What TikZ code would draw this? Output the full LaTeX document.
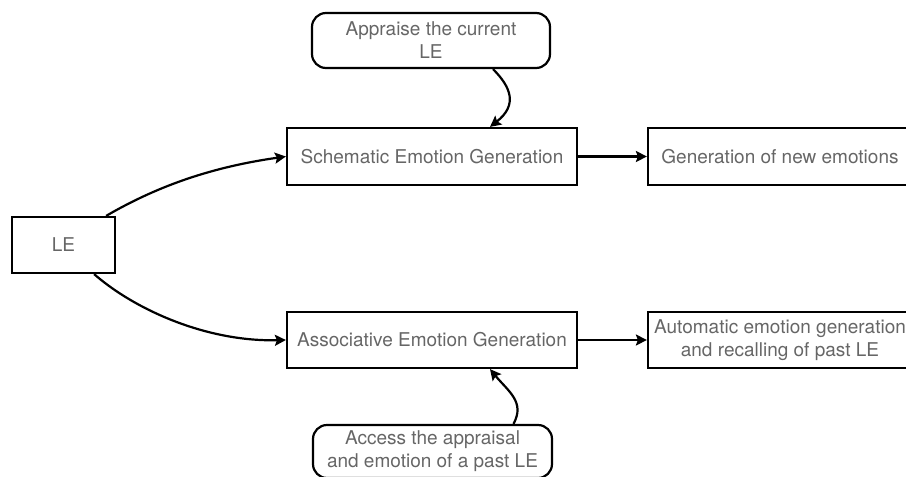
\documentclass[tikz,border=0pt]{standalone}
\usepackage{fontspec}
\setmainfont{TeX Gyre Heros}
\usetikzlibrary{arrows.meta}
\begin{document}
\begin{tikzpicture}[x=1pt,y=-1pt,
  box/.style={draw,line width=2.2pt,inner sep=0pt,align=center,text=black!60,
    font=\fontsize{19}{23}\selectfont},
  rbox/.style={box,rounded corners=14pt},
  conn/.style={line width=2.2pt,-{Stealth[length=11pt,width=11pt,inset=2pt]}}]
\useasboundingbox (0,0) rectangle (906,477);
\node[box,minimum width=103pt,minimum height=56pt] (le) at (63.5,245) {LE};
\node[box,minimum width=290pt,minimum height=57pt] (sched) at (432,156.5) {Schematic Emotion Generation};
\node[box,minimum width=264pt,minimum height=57pt] (gen) at (780,156.5) {Generation of new emotions};
\node[box,minimum width=290pt,minimum height=56pt] (assoc) at (432,340) {Associative Emotion Generation};
\node[box,minimum width=264pt,minimum height=56pt] (auto) at (780,340) {Automatic emotion generation\\and recalling of past LE};
\node[rbox,minimum width=238pt,minimum height=55pt] (appr) at (431,40.5) {Appraise the current\\LE};
\node[rbox,minimum width=239pt,minimum height=53pt] (access) at (432.5,451.5) {Access the appraisal\\and emotion of a past LE};
\draw[conn] ([xshift=-10pt]le.north east) .. controls +(55,-32) and +(-70,10) .. (sched.west);
\draw[conn] ([xshift=-22pt]le.south east) .. controls +(40,35) and +(-80,2) .. (assoc.west);
\draw[conn] (sched.east) -- (gen.west);
\draw[conn] (assoc.east) -- (auto.west);
\draw[conn] ([xshift=62pt]appr.south) .. controls +(18,18) and +(28,-22) .. ([xshift=58pt]sched.north);
\draw[conn] ([xshift=81pt]access.north) .. controls +(12,-22) and +(18,22) .. ([xshift=58pt]assoc.south);
\end{tikzpicture}
\end{document}
